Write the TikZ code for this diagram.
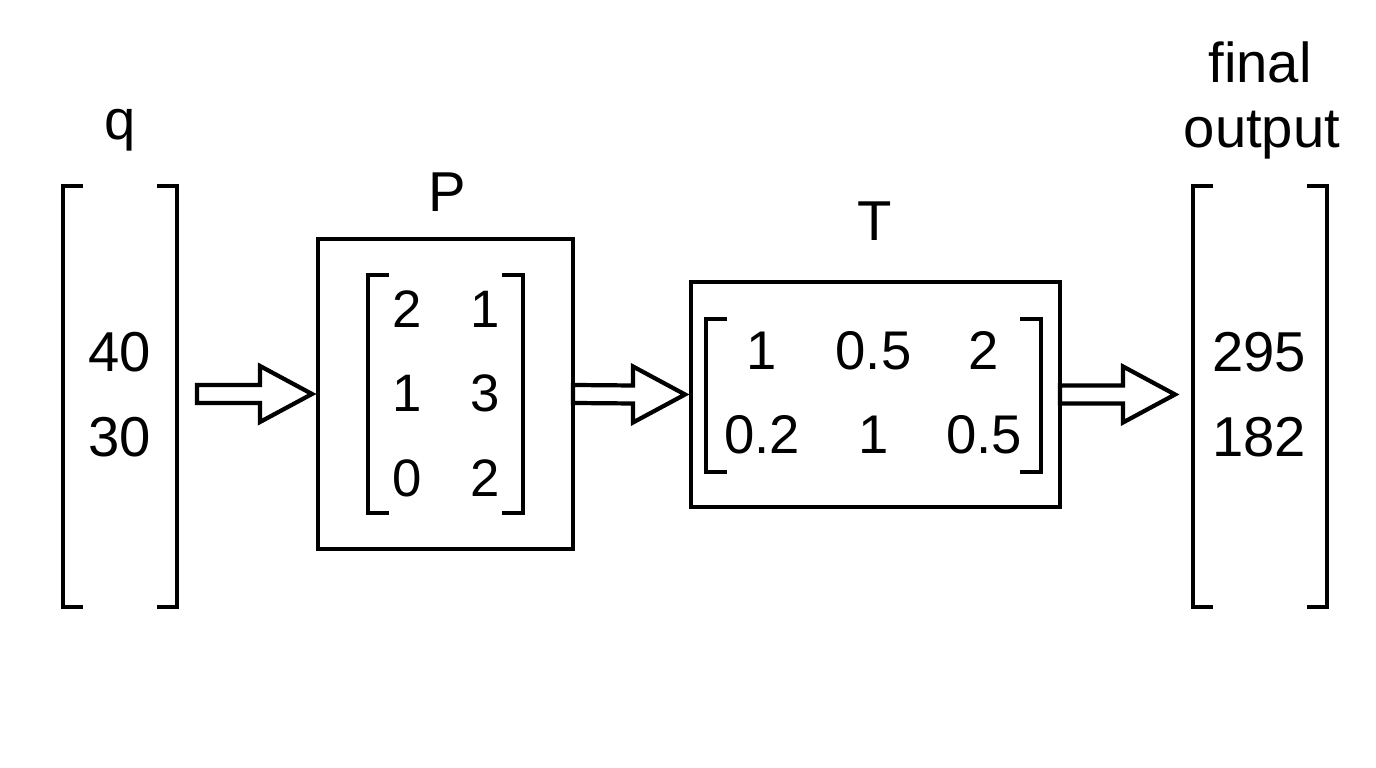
\documentclass[tikz,border=0pt]{standalone}
\usepackage{fontspec}
\setmainfont{Liberation Sans}
\usepackage{tikz}
\usetikzlibrary{calc,positioning}

% hollow block arrow between two named points
\newcommand{\hollowarrow}[2]{%
  \draw[hollow] ($(#1)+(0,0.09)$) -- ($(#2)+(-0.52,0.09)$) -- ($(#2)+(-0.52,0.28)$)
    -- (#2) -- ($(#2)+(-0.52,-0.28)$) -- ($(#2)+(-0.52,-0.09)$) -- ($(#1)+(0,-0.09)$) -- cycle;}

\begin{document}
\begin{tikzpicture}[
    mbox/.style={draw, line width=1.2pt, inner sep=0pt, outer sep=0pt, anchor=north west},
    area/.style={inner sep=0pt, outer sep=0pt},
    brk/.style={line width=1.2pt},
    hollow/.style={line width=1.2pt, line join=miter, fill=white},
    lbl/.style={anchor=base, font=\fontsize{16}{19}\selectfont},
    vval/.style={anchor=base, font=\fontsize{16}{19}\selectfont},
    pval/.style={anchor=base, font=\fontsize{15}{18}\selectfont},
    tval/.style={anchor=base, font=\fontsize{15.5}{18}\selectfont}
]
\useasboundingbox (0,0) rectangle (13.76,7.68);

% Input vector q
\node[area, minimum width=1.14cm, minimum height=4.21cm] (qvec) at (1.20,3.715) {};
\draw[brk] ([xshift=0.2cm]qvec.north west) -- (qvec.north west) -- (qvec.south west) -- ++(0.2,0);
\draw[brk] ([xshift=-0.2cm]qvec.north east) -- (qvec.north east) -- (qvec.south east) -- ++(-0.2,0);
\node[lbl] (qlbl) at (1.20,6.28) {q};
\node[vval] (q1) at (1.195,3.96) {40};
\node[vval] (q2) at (1.20,3.11) {30};

% Matrix P
\node[mbox, minimum width=2.55cm, minimum height=3.10cm] (Pbox) at (3.18,5.29) {};
\node[lbl] (Plbl) at (4.47,5.56) {P};
\node[area, minimum width=1.55cm, minimum height=2.38cm] (Pmat) at (4.455,3.74) {};
\draw[brk] ([xshift=0.21cm]Pmat.north west) -- (Pmat.north west) -- (Pmat.south west) -- ++(0.21,0);
\draw[brk] ([xshift=-0.21cm]Pmat.north east) -- (Pmat.north east) -- (Pmat.south east) -- ++(-0.21,0);
\node[pval] (p11) at (4.075,4.40) {2};
\node[pval] (p12) at (4.85,4.40) {1};
\node[pval] (p21) at (4.075,3.56) {1};
\node[pval] (p22) at (4.85,3.56) {3};
\node[pval] (p31) at (4.075,2.71) {0};
\node[pval] (p32) at (4.85,2.71) {2};

% Matrix T
\node[mbox, minimum width=3.69cm, minimum height=2.25cm] (Tbox) at (6.91,4.86) {};
\node[lbl] (Tlbl) at (8.75,5.27) {T};
\node[area, minimum width=3.35cm, minimum height=1.53cm] (Tmat) at (8.735,3.725) {};
\draw[brk] ([xshift=0.21cm]Tmat.north west) -- (Tmat.north west) -- (Tmat.south west) -- ++(0.21,0);
\draw[brk] ([xshift=-0.21cm]Tmat.north east) -- (Tmat.north east) -- (Tmat.south east) -- ++(-0.21,0);
\node[tval] (t11) at (7.62,3.98) {1};
\node[tval] (t12) at (8.735,3.98) {0.5};
\node[tval] (t13) at (9.84,3.98) {2};
\node[tval] (t21) at (7.62,3.14) {0.2};
\node[tval] (t22) at (8.735,3.14) {1};
\node[tval] (t23) at (9.84,3.14) {0.5};

% Final output vector
\node[area, minimum width=1.34cm, minimum height=4.21cm] (outvec) at (12.60,3.715) {};
\draw[brk] ([xshift=0.2cm]outvec.north west) -- (outvec.north west) -- (outvec.south west) -- ++(0.2,0);
\draw[brk] ([xshift=-0.2cm]outvec.north east) -- (outvec.north east) -- (outvec.south east) -- ++(-0.2,0);
\node[lbl] (finallbl) at (12.60,6.85) {final};
\node[lbl] (outlbl) at (12.62,6.20) {output};
\node[vval] (o1) at (12.59,3.96) {295};
\node[vval] (o2) at (12.59,3.11) {182};

% Arrows
\coordinate (a1s) at ($(qvec.east |- Pbox.west)+(0.20,0)$);
\coordinate (a1e) at ($(Pbox.west)+(-0.06,0)$);
\coordinate (a2e) at ($(Tbox.west)+(-0.06,0)$);
\coordinate (a3e) at ($(outvec.west |- Tbox.east)+(-0.18,0)$);
\hollowarrow{a1s}{a1e}
\hollowarrow{Pbox.east}{a2e}
\hollowarrow{Tbox.east}{a3e}
\end{tikzpicture}
\end{document}
